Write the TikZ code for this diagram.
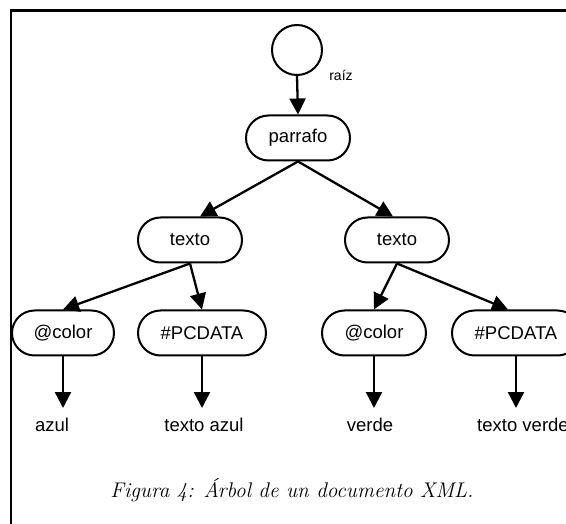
\documentclass[tikz,border=0pt]{standalone}
\usepackage{fontspec}
\newfontfamily\nodefont{Liberation Sans}
\usetikzlibrary{arrows.meta,shapes.misc}
\tikzset{
  elem/.style={draw, line width=2pt, rounded rectangle, minimum height=45pt, inner sep=0pt,
    font=\nodefont\fontsize{18.5}{20}\selectfont},
  leaf/.style={inner sep=0pt, font=\nodefont\fontsize{18.5}{20}\selectfont},
  arr/.style={line width=2.3pt, -{Triangle[length=16pt,width=16pt]}},
}
\begin{document}
\begin{tikzpicture}[x=1pt,y=-1pt]
\useasboundingbox (0,0) rectangle (566,524);
\clip (0,0) rectangle (566,524);
\draw[line width=2.6pt] (11,524) -- (11,10.5) -- (566,10.5);
\node[draw, circle, line width=2pt, minimum size=50pt, inner sep=0pt] (root) at (297,50) {};
\node[inner sep=0pt, font=\nodefont\fontsize{14}{16}\selectfont] (rlab) at (341,75) {raíz};
\node[elem, minimum width=104pt] (par) at (298,138) {parrafo};
\node[elem, minimum width=104pt] (t1) at (190,240) {texto};
\node[elem, minimum width=104pt] (t2) at (397,240) {texto};
\node[elem, minimum width=102pt] (c1) at (63,333) {@color};
\node[elem, minimum width=128pt] (p1) at (202,333) {\#PCDATA};
\node[elem, minimum width=104pt] (c2) at (374,333) {@color};
\node[elem, minimum width=128pt] (p2) at (516,333) {\#PCDATA};
\node[leaf] (l1) at (52,425) {azul};
\node[leaf] (l2) at (204,425) {texto azul};
\node[leaf] (l3) at (370,425) {verde};
\node[leaf] (l4) at (523,425) {texto verde};
\node[font=\fontsize{21.2}{24}\selectfont\itshape] (cap) at (292,490) {Figura 4: Árbol de un documento XML.};
\draw[arr] (root.south) -- (par.north);
\draw[arr] (par.south) -- ([xshift=10pt]t1.north);
\draw[arr] (par.south) -- ([xshift=-4pt]t2.north);
\draw[arr] (t1.south) -- (c1.north);
\draw[arr] (t1.south) -- (p1.north);
\draw[arr] (t2.south) -- (c2.north);
\draw[arr] (t2.south) -- ([xshift=-8pt]p2.north);
\draw[arr, shorten >=10pt] (c1.south) -- (c1.south |- l1.north);
\draw[arr, shorten >=10pt] (p1.south) -- (p1.south |- l2.north);
\draw[arr, shorten >=10pt] (c2.south) -- (c2.south |- l3.north);
\draw[arr, shorten >=10pt] (p2.south) -- (p2.south |- l4.north);
\end{tikzpicture}
\end{document}
